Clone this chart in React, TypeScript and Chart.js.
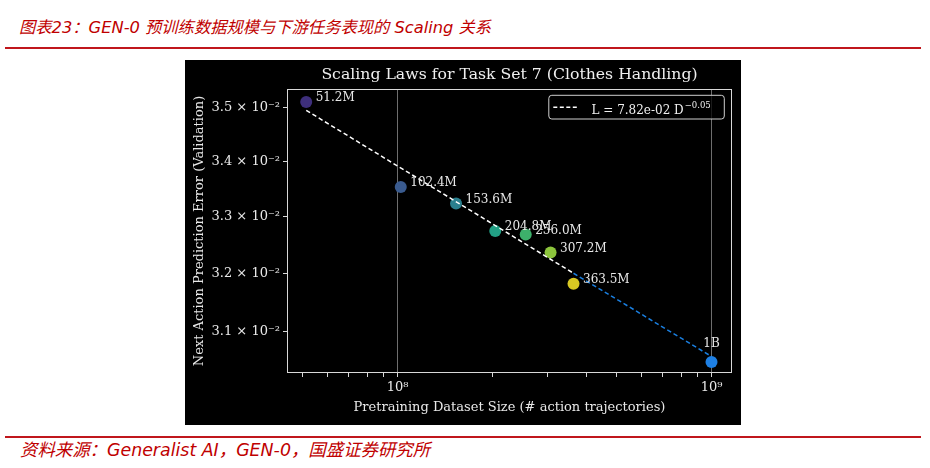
import React, { useEffect, useRef } from "react";
import { Chart, registerables } from "chart.js";

Chart.register(...registerables);

// ---------- data ----------
const datasetSizes = [51.2e6, 102.4e6, 153.6e6, 204.8e6, 256.0e6, 307.2e6, 363.5e6, 1e9];
const sizeLabels = ["51.2M", "102.4M", "153.6M", "204.8M", "256.0M", "307.2M", "363.5M", "1B"];
const validationErrors = [0.03511, 0.03353, 0.03323, 0.03274, 0.03268, 0.03236, 0.03182, 0.0305];
const pointColors = [
  "#3e2f7c",
  "#3a5b8f",
  "#2a7f8e",
  "#22a085",
  "#3db06b",
  "#8cc43c",
  "#d8c823",
  "#1e80e4",
];

// fitted power law L = 7.82e-02 D^-0.05
const fitSizesWhite = [51.2e6, 363.5e6];
const fitValuesWhite = [0.03495, 0.032];
const fitSizesBlue = [363.5e6, 1e9];
const fitValuesBlue = [0.032, 0.03059];

const xTickValues = [5e7, 6e7, 7e7, 8e7, 9e7, 1e8, 2e8, 3e8, 4e8, 5e8, 6e8, 7e8, 8e8, 9e8, 1e9];
const xMajorValues = [1e8, 1e9];
const xMajorLabels = ["10⁸", "10⁹"];
const yTickValues = [0.031, 0.032, 0.033, 0.034, 0.035];
const yTickLabels = ["3.1 × 10⁻²", "3.2 × 10⁻²", "3.3 × 10⁻²", "3.4 × 10⁻²", "3.5 × 10⁻²"];

const chartTitle = "Scaling Laws for Task Set 7 (Clothes Handling)";
const xTitle = "Pretraining Dataset Size (# action trajectories)";
const yTitle = "Next Action Prediction Error (Validation)";
const legendMain = "L = 7.82e-02 D";
const legendExp = "−0.05";

const pageTitle = "图表23：GEN-0 预训练数据规模与下游任务表现的 Scaling 关系";
const pageSource = "资料来源：Generalist AI，GEN-0，国盛证券研究所";

const SERIF = "'DejaVu Serif', serif";

const decorPlugin = {
  id: "decor",
  afterDatasetsDraw(chart: any) {
    const ctx = chart.ctx;
    const ca = chart.chartArea;
    ctx.save();
    // frame
    ctx.strokeStyle = "#d8d8d8";
    ctx.lineWidth = 1;
    ctx.strokeRect(Math.round(ca.left) + 0.5, Math.round(ca.top) + 0.5, Math.round(ca.right - ca.left) - 1, Math.round(ca.bottom - ca.top) - 1);

    // point labels
    const meta = chart.getDatasetMeta(2);
    ctx.fillStyle = "#e8e8e8";
    ctx.font = `12px ${SERIF}`;
    ctx.textBaseline = "middle";
    meta.data.forEach((el: any, i: number) => {
      if (i === sizeLabels.length - 1) {
        ctx.textAlign = "center";
        ctx.fillText(sizeLabels[i], el.x, el.y - 18);
      } else {
        ctx.textAlign = "left";
        ctx.fillText(sizeLabels[i], el.x + 9.5, el.y - 4);
      }
    });

    // title
    ctx.fillStyle = "#f0f0f0";
    ctx.font = `15.7px ${SERIF}`;
    ctx.textAlign = "center";
    ctx.textBaseline = "middle";
    ctx.fillText(chartTitle, (ca.left + ca.right) / 2, ca.top - 14);

    // legend
    const bw = 175.5;
    const bh = 23.7;
    const bx = ca.right - 7.7 - bw;
    const by = ca.top + 6.3;
    ctx.beginPath();
    const r = 3;
    ctx.moveTo(bx + r, by);
    ctx.lineTo(bx + bw - r, by);
    ctx.arcTo(bx + bw, by, bx + bw, by + r, r);
    ctx.lineTo(bx + bw, by + bh - r);
    ctx.arcTo(bx + bw, by + bh, bx + bw - r, by + bh, r);
    ctx.lineTo(bx + r, by + bh);
    ctx.arcTo(bx, by + bh, bx, by + bh - r, r);
    ctx.lineTo(bx, by + r);
    ctx.arcTo(bx, by, bx + r, by, r);
    ctx.closePath();
    ctx.fillStyle = "rgba(0,0,0,0.75)";
    ctx.fill();
    ctx.strokeStyle = "#cfcfcf";
    ctx.lineWidth = 1;
    ctx.stroke();

    ctx.beginPath();
    ctx.setLineDash([4, 2.5]);
    ctx.strokeStyle = "#ffffff";
    ctx.lineWidth = 1.5;
    ctx.moveTo(bx + 4.5, by + 12);
    ctx.lineTo(bx + 30.5, by + 12);
    ctx.stroke();
    ctx.setLineDash([]);

    ctx.fillStyle = "#f0f0f0";
    ctx.font = `12px ${SERIF}`;
    ctx.textAlign = "left";
    ctx.textBaseline = "alphabetic";
    const tx = bx + 42.7;
    const ty = by + 18.5;
    ctx.fillText(legendMain, tx, ty);
    const w = ctx.measureText(legendMain).width;
    ctx.font = `8.5px ${SERIF}`;
    ctx.fillText(legendExp, tx + w + 1, ty - 5.5);
    ctx.restore();
  },
};

export default function App() {
  const canvasRef = useRef<HTMLCanvasElement | null>(null);

  useEffect(() => {
    const canvas = canvasRef.current;
    if (!canvas) return;
    const chart = new Chart(canvas, {
      type: "scatter",
      data: {
        datasets: [
          {
            data: fitSizesWhite.map((x, i) => ({ x, y: fitValuesWhite[i] })),
            showLine: true,
            borderColor: "#ffffff",
            borderWidth: 1.5,
            borderDash: [4.5, 2.8],
            pointRadius: 0,
            fill: false,
          },
          {
            data: fitSizesBlue.map((x, i) => ({ x, y: fitValuesBlue[i] })),
            showLine: true,
            borderColor: "#1a7fe0",
            borderWidth: 1.5,
            borderDash: [4.5, 2.8],
            pointRadius: 0,
            fill: false,
          },
          {
            data: datasetSizes.map((x, i) => ({ x, y: validationErrors[i] })),
            pointRadius: 6,
            pointHoverRadius: 6,
            pointBackgroundColor: pointColors,
            pointBorderWidth: 0,
            borderWidth: 0,
          },
        ],
      },
      options: {
        responsive: false,
        animation: false,
        events: [],
        layout: { padding: { left: 0, right: 9, top: 29, bottom: 0 } },
        plugins: {
          legend: { display: false },
          tooltip: { enabled: false },
          title: { display: false },
        },
        scales: {
          x: {
            type: "logarithmic",
            min: 4.447e7,
            max: 1.162e9,
            bounds: "data",
            afterBuildTicks: (scale: any) => {
              scale.ticks = xTickValues.map((v) => ({ value: v }));
            },
            afterFit: (scale: any) => {
              scale.height = 52;
            },
            border: { display: false },
            grid: {
              display: true,
              drawOnChartArea: true,
              drawTicks: true,
              tickLength: 4,
              lineWidth: 1,
              color: (c: any) =>
                c.tick && xMajorValues.includes(c.tick.value) ? "rgba(200,200,200,0.55)" : "rgba(0,0,0,0)",
              tickColor: "#d8d8d8",
            },
            ticks: {
              autoSkip: false,
              maxRotation: 0,
              padding: 3,
              color: "#e8e8e8",
              font: { family: SERIF, size: 13 },
              callback: (v: any) => {
                const idx = xMajorValues.indexOf(Number(v));
                return idx >= 0 ? xMajorLabels[idx] : "";
              },
            },
            title: {
              display: true,
              text: xTitle,
              color: "#e8e8e8",
              font: { family: SERIF, size: 13 },
              padding: { top: 0, bottom: 10 },
            },
          },
          y: {
            type: "logarithmic",
            min: 0.030318,
            max: 0.035356,
            bounds: "data",
            afterBuildTicks: (scale: any) => {
              scale.ticks = yTickValues.map((v) => ({ value: v }));
            },
            afterFit: (scale: any) => {
              scale.width = 102;
            },
            border: { display: false },
            grid: {
              display: true,
              drawOnChartArea: false,
              drawTicks: true,
              tickLength: 4,
              tickColor: "#d8d8d8",
            },
            ticks: {
              autoSkip: false,
              padding: 3,
              color: "#e8e8e8",
              font: { family: SERIF, size: 13 },
              callback: (v: any) => {
                const idx = yTickValues.findIndex((t) => Math.abs(t - Number(v)) < 1e-7);
                return idx >= 0 ? yTickLabels[idx] : "";
              },
            },
            title: {
              display: true,
              text: yTitle,
              color: "#e8e8e8",
              font: { family: SERIF, size: 13 },
              padding: { top: 7, bottom: 0 },
            },
          },
        },
      } as any,
      plugins: [decorPlugin],
    });
    return () => chart.destroy();
  }, []);

  const redText = "#c00000";
  const redLine = "#c0161c";
  const pageFont = "'DejaVu Sans', 'Noto Sans CJK SC', sans-serif";

  return (
    <div
      style={{
        position: "fixed",
        left: 0,
        top: 0,
        width: 930,
        height: 468,
        background: "#ffffff",
        overflow: "hidden",
      }}
    >
      <div
        style={{
          position: "absolute",
          left: 19,
          top: 18,
          fontFamily: pageFont,
          fontStyle: "italic",
          fontSize: 16.3,
          lineHeight: "20px",
          color: redText,
          whiteSpace: "nowrap",
        }}
      >
        {pageTitle}
      </div>
      <div style={{ position: "absolute", left: 5, top: 46.5, width: 916, height: 2, background: redLine }} />
      <canvas
        ref={canvasRef}
        width={556}
        height={365}
        style={{ position: "absolute", left: 185, top: 60, width: 556, height: 365, background: "#000000" }}
      />
      <div style={{ position: "absolute", left: 5, top: 435.5, width: 916, height: 2, background: redLine }} />
      <div
        style={{
          position: "absolute",
          left: 20,
          top: 439.5,
          fontFamily: pageFont,
          fontStyle: "italic",
          fontSize: 17.4,
          lineHeight: "20px",
          color: redText,
          whiteSpace: "nowrap",
        }}
      >
        {pageSource}
      </div>
    </div>
  );
}
